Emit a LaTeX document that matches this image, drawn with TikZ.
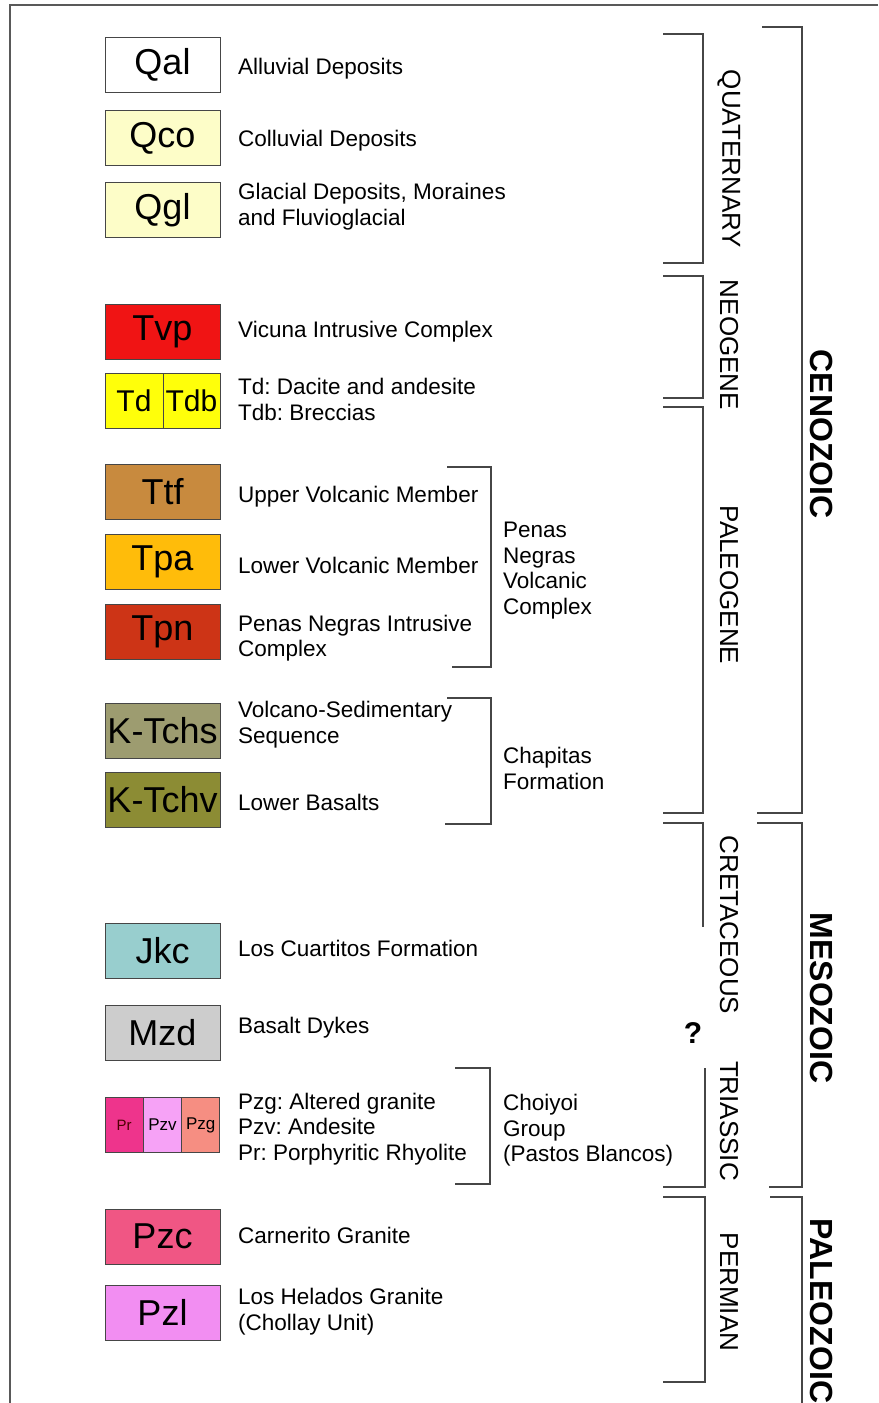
\documentclass[tikz,border=0pt]{standalone}
\usepackage{fontspec}
\setmainfont{Liberation Sans}
\frenchspacing
\definecolor{cqco}{RGB}{253,253,200}
\definecolor{ctvp}{RGB}{240,20,20}
\definecolor{ctd}{RGB}{255,255,10}
\definecolor{cttf}{RGB}{200,138,62}
\definecolor{ctpa}{RGB}{255,188,10}
\definecolor{ctpn}{RGB}{205,52,22}
\definecolor{cktchs}{RGB}{157,156,112}
\definecolor{cktchv}{RGB}{140,140,52}
\definecolor{cjkc}{RGB}{152,206,206}
\definecolor{cmzd}{RGB}{205,205,205}
\definecolor{cpr}{RGB}{238,52,140}
\definecolor{cpzv}{RGB}{246,162,246}
\definecolor{cpzg}{RGB}{246,142,130}
\definecolor{cpzc}{RGB}{240,86,132}
\definecolor{cpzl}{RGB}{242,142,242}
\definecolor{lineg}{RGB}{70,70,70}
\begin{document}
\begin{tikzpicture}[x=1bp, y=-1bp,
    unit/.style={draw=lineg, line width=1bp, minimum width=115bp, minimum height=55bp,
      inner sep=0pt, font=\fontsize{36bp}{40bp}\selectfont},
    desc/.style={anchor=base west, inner sep=0pt, font=\fontsize{22.5bp}{25.5bp}\selectfont},
    descm/.style={desc, anchor=west, align=left},
    brk/.style={draw=lineg, line width=1.2bp},
    period/.style={rotate=-90, inner sep=0pt, font=\fontsize{26bp}{30bp}\selectfont},
    era/.style={rotate=-90, inner sep=0pt, font=\fontsize{32bp}{36bp}\selectfont\bfseries}]

    % 背景と枠
    \fill[white] (0,0) rectangle (878,1403);
    \useasboundingbox (0,0) rectangle (878,1403);
    \draw[black!65, line width=2bp] (10,1403) -- (10,5) -- (878,5);

    % 凡例の箱
    \node[unit, fill=white] (qal) at (162.5,65) {Qal};
    \node[unit, fill=cqco] (qco) at (162.5,138) {Qco};
    \node[unit, fill=cqco] (qgl) at (162.5,210) {Qgl};
    \node[unit, fill=ctvp] (tvp) at (162.5,332) {Tvp};
    \node[unit, fill=ctd, minimum width=58bp, font=\fontsize{30bp}{34bp}\selectfont] (td) at (134,400.5) {Td};
    \node[unit, fill=ctd, minimum width=57bp, font=\fontsize{30bp}{34bp}\selectfont] (tdb) at (191.5,400.5) {Tdb};
    \node[unit, fill=cttf] (ttf) at (162.5,492) {Ttf};
    \node[unit, fill=ctpa] (tpa) at (162.5,562) {Tpa};
    \node[unit, fill=ctpn] (tpn) at (162.5,632) {Tpn};
    \node[unit, fill=cktchs] (ktchs) at (162.5,730.5) {K-Tchs};
    \node[unit, fill=cktchv] (ktchv) at (162.5,799.5) {K-Tchv};
    \node[unit, fill=cjkc] (jkc) at (162.5,950.5) {Jkc};
    \node[unit, fill=cmzd] (mzd) at (162.5,1032.5) {Mzd};
    \node[unit, fill=cpr, minimum width=38.3bp, font=\fontsize{15bp}{18bp}\selectfont, text=black!70!red] (pr) at (124.2,1125) {Pr};
    \node[unit, fill=cpzv, minimum width=38.3bp, font=\fontsize{17bp}{20bp}\selectfont] (pzv) at (162.5,1125) {Pzv};
    \node[unit, fill=cpzg, minimum width=38.3bp, font=\fontsize{17bp}{20bp}\selectfont] (pzg) at (200.8,1125) {Pzg};
    \node[unit, fill=cpzc] (pzc) at (162.5,1236.5) {Pzc};
    \node[unit, fill=cpzl] (pzl) at (162.5,1312.5) {Pzl};

    % 説明
    \node[desc] (qaltxt) at (238,75) {Alluvial Deposits};
    \node[desc] (qcotxt) at (238,147) {Colluvial Deposits};
    \node[descm] (qgltxt) at (238,206.6) {Glacial Deposits, Moraines\\and Fluvioglacial};
    \node[desc] (tvptxt) at (238,337) {Vicuna Intrusive Complex};
    \node[descm] (tdtxt) at (238,399.7) {Td: Dacite and andesite\\Tdb: Breccias};
    \node[desc] (ttftxt) at (238,502) {Upper Volcanic Member};
    \node[desc] (tpatxt) at (238,573) {Lower Volcanic Member};
    \node[descm] (tpntxt) at (238,638) {Penas Negras Intrusive\\Complex};
    \node[descm] (ktchstxt) at (238,724.7) {Volcano-Sedimentary\\Sequence};
    \node[desc] (ktchvtxt) at (238,810) {Lower Basalts};
    \node[desc] (jkctxt) at (238,956) {Los Cuartitos Formation};
    \node[desc] (mzdtxt) at (238,1033) {Basalt Dykes};
    \node[descm] (prtxt) at (238,1129) {Pzg: Altered granite\\Pzv: Andesite\\Pr: Porphyritic Rhyolite};
    \node[desc] (pzctxt) at (238,1243) {Carnerito Granite};
    \node[descm] (pzltxt) at (238,1311.6) {Los Helados Granite\\(Chollay Unit)};

    % グループ
    \draw[brk] (447,467) -- (491,467) -- (491,667) -- (452,667);
    \draw[brk] (447,698) -- (491,698) -- (491,824) -- (445,824);
    \draw[brk] (455,1068) -- (490,1068) -- (490,1184) -- (455,1184);
    \node[descm] (penas) at (503,570.6) {Penas\\Negras\\Volcanic\\Complex};
    \node[descm] (chapitas) at (503,768.6) {Chapitas\\Formation};
    \node[descm] (choiyoi) at (503,1130.6) {Choiyoi\\Group\\(Pastos Blancos)};

    % 紀
    \draw[brk] (663,34) -- (703,34) -- (703,263) -- (663,263);
    \draw[brk] (663,276) -- (703,276) -- (703,398) -- (663,398);
    \draw[brk] (663,407) -- (703,407) -- (703,813) -- (663,813);
    \draw[brk] (663,823) -- (703,823) -- (703,927);
    \draw[brk] (705,1068) -- (705,1187) -- (663,1187);
    \draw[brk] (663,1197) -- (705,1197) -- (705,1382) -- (663,1382);
    \node[period] (quat) at (729,159) {QUATERNARY};
    \node[period] (neo) at (729,345) {NEOGENE};
    \node[period] (paleog) at (729,585) {PALEOGENE};
    \node[period] (cret) at (729,925) {CRETACEOUS};
    \node[period] (trias) at (729,1121) {TRIASSIC};
    \node[period] (perm) at (729,1292) {PERMIAN};
    \node[font=\fontsize{30bp}{34bp}\selectfont\bfseries] (qmark) at (693,1033) {?};

    % 代
    \draw[brk] (762,27) -- (802,27) -- (802,813) -- (757,813);
    \draw[brk] (757,823) -- (802,823) -- (802,1187) -- (769,1187);
    \draw[brk] (770,1197) -- (802,1197) -- (802,1403);
    \node[era] (ceno) at (822,434) {CENOZOIC};
    \node[era] (meso) at (822,998) {MESOZOIC};
    \node[era] (paleoz) at (822,1311) {PALEOZOIC};
  \end{tikzpicture}
\end{document}
